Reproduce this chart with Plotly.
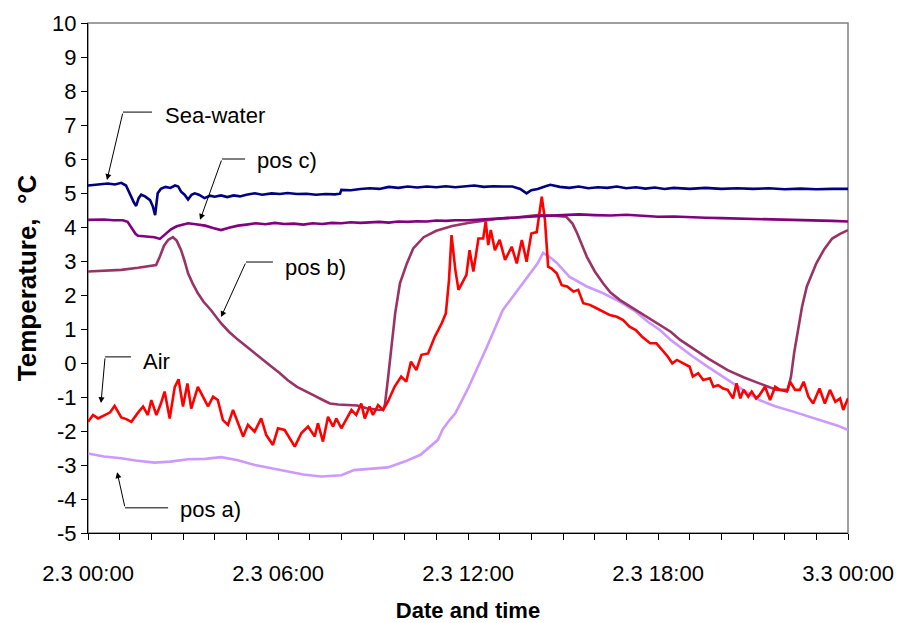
import plotly.graph_objects as go

# ---------------- data (hours since 2.3 00:00, temperature in °C) ----------------
sea_h = [0, 0.3, 0.63, 0.85, 1.05, 1.2, 1.36, 1.45, 1.52, 1.6, 1.68, 1.8, 1.96, 2.05, 2.12, 2.2, 2.3, 2.45,
         2.6, 2.75, 2.85, 2.94, 3.05, 3.16, 3.27, 3.37, 3.5, 3.68, 3.85, 4.0, 4.2, 4.4, 4.6, 4.8, 5.0, 5.27,
         5.5, 5.8, 6.06, 6.3, 6.6, 6.9, 7.2, 7.5, 7.8, 7.96, 8.0, 8.3, 8.6, 8.9, 9.2, 9.5, 9.8, 10.1, 10.4,
         10.7, 11.0, 11.3, 11.6, 11.9, 12.2, 12.5, 12.8, 13.1, 13.4, 13.65, 13.85, 14.0, 14.2, 14.45, 14.6,
         14.9, 15.2, 15.5, 15.8, 16.1, 16.4, 16.7, 17.0, 17.3, 17.6, 17.9, 18.2, 18.5, 19, 19.5, 20, 20.5,
         21, 21.5, 22, 22.5, 23, 23.5, 24]
sea_t = [5.22, 5.25, 5.28, 5.25, 5.30, 5.22, 4.89, 4.72, 4.62, 4.85, 4.95, 4.90, 4.79, 4.6, 4.35, 4.99, 5.12,
         5.18, 5.15, 5.22, 5.19, 5.04, 4.95, 4.81, 4.95, 4.99, 4.95, 4.85, 4.92, 4.89, 4.93, 4.88, 4.93, 4.90,
         4.95, 4.99, 4.95, 4.99, 4.97, 5.0, 4.97, 4.98, 4.95, 4.97, 4.96, 4.98, 5.09, 5.08, 5.12, 5.14, 5.12,
         5.18, 5.15, 5.19, 5.16, 5.19, 5.17, 5.2, 5.17, 5.19, 5.22, 5.18, 5.2, 5.19, 5.19, 5.12, 4.99, 5.08,
         5.12, 5.2, 5.24, 5.18, 5.15, 5.19, 5.14, 5.17, 5.15, 5.19, 5.14, 5.17, 5.13, 5.16, 5.12, 5.15, 5.12,
         5.15, 5.12, 5.14, 5.12, 5.14, 5.11, 5.13, 5.11, 5.12, 5.12]

posc_h = [0, 0.5, 0.8, 1.1, 1.25, 1.36, 1.5, 1.58, 1.8, 2.1, 2.27, 2.45, 2.62, 2.8, 3.0, 3.16, 3.4, 3.7, 3.95,
          4.2, 4.45, 4.74, 5.0, 5.3, 5.6, 5.9, 6.2, 6.5, 6.8, 7.1, 7.4, 7.7, 8.0, 8.3, 8.6, 8.9, 9.2, 9.5, 9.8,
          10.1, 10.4, 10.7, 11.0, 11.3, 11.6, 12, 12.5, 13, 13.5, 14, 14.5, 15, 15.5, 16, 16.5, 17, 17.5, 18,
          18.5, 19, 19.5, 20, 20.5, 21, 21.5, 22, 22.5, 23, 23.5, 24]
posc_t = [4.21, 4.22, 4.2, 4.2, 4.15, 4.01, 3.8, 3.74, 3.72, 3.70, 3.65, 3.80, 3.93, 4.02, 4.08, 4.11, 4.08,
          4.04, 3.97, 3.91, 3.98, 4.04, 4.07, 4.11, 4.08, 4.12, 4.09, 4.1, 4.07, 4.11, 4.09, 4.12, 4.11, 4.14,
          4.12, 4.13, 4.15, 4.13, 4.16, 4.15, 4.17, 4.16, 4.19, 4.18, 4.2, 4.2, 4.23, 4.25, 4.28, 4.32, 4.33,
          4.35, 4.37, 4.35, 4.34, 4.36, 4.32, 4.3, 4.31, 4.28, 4.27, 4.26, 4.25, 4.24, 4.22, 4.23, 4.2, 4.21,
          4.18, 4.16]

posb_h = [0, 0.5, 1.05, 1.58, 1.9, 2.15, 2.27, 2.4, 2.53, 2.68, 2.8, 2.94, 3.05, 3.16, 3.3, 3.47, 3.65, 3.88,
          4.2, 4.45, 4.74, 5.0, 5.27, 5.55, 5.8, 6.06, 6.3, 6.6, 6.85, 7.1, 7.4, 7.64, 7.9, 8.2, 8.5, 8.8, 9.0,
          9.22, 9.33, 9.38, 9.48, 9.6, 9.7, 9.85, 10.07, 10.27, 10.6, 11.0, 11.5, 12.0, 12.4, 12.6, 13.0, 13.5,
          14.2, 14.7, 15.1, 15.3, 15.45, 15.75, 16.0, 16.27, 16.5, 16.8, 17.3, 17.8, 18.06, 18.4, 18.7, 19.1,
          19.6, 20.2, 20.7, 21.2, 21.5, 21.75, 22.1, 22.2, 22.3, 22.4, 22.55, 22.7, 23.0, 23.25, 23.5, 23.75, 24]
posb_t = [2.69, 2.71, 2.74, 2.80, 2.85, 2.88, 3.13, 3.45, 3.62, 3.70, 3.6, 3.32, 3.0, 2.64, 2.35, 2.05, 1.8,
          1.56, 1.17, 0.92, 0.68, 0.48, 0.28, 0.08, -0.11, -0.30, -0.5, -0.70, -0.83, -0.94, -1.08, -1.19,
          -1.22, -1.24, -1.25, -1.33, -1.35, -1.38, -1.36, -1.2, -0.40, 0.58, 1.46, 2.34, 2.93, 3.37, 3.70,
          3.89, 4.03, 4.12, 4.18, 4.21, 4.25, 4.28, 4.35, 4.33, 4.30, 4.1, 3.81, 3.13, 2.7, 2.34, 2.07, 1.85,
          1.56, 1.28, 1.12, 0.92, 0.68, 0.43, 0.12, -0.21, -0.42, -0.60, -0.7, -0.79, -0.79, -0.40, 0.3, 0.87,
          1.66, 2.25, 2.93, 3.35, 3.66, 3.8, 3.91]

air_h = [0, 0.16, 0.32, 0.53, 0.7, 0.84, 1.05, 1.21, 1.37, 1.58, 1.74, 1.89, 2.0, 2.16, 2.3, 2.42, 2.58, 2.74,
         2.86, 3.0, 3.14, 3.26, 3.47, 3.63, 3.79, 3.95, 4.1, 4.26, 4.42, 4.58, 4.74, 4.9, 5.05, 5.26, 5.47,
         5.63, 5.84, 6.0, 6.21, 6.37, 6.53, 6.74, 6.95, 7.16, 7.26, 7.42, 7.58, 7.74, 7.84, 8.0, 8.16, 8.32,
         8.47, 8.63, 8.74, 8.89, 9.0, 9.16, 9.32, 9.47, 9.68, 9.89, 10.05, 10.2, 10.37, 10.53, 10.74, 10.95,
         11.17, 11.3, 11.4, 11.48, 11.6, 11.7, 11.95, 12.05, 12.17, 12.33, 12.48, 12.56, 12.64, 12.72, 12.85,
         13.0, 13.17, 13.38, 13.54, 13.7, 13.85, 14.0, 14.17, 14.2, 14.33, 14.43, 14.53, 14.64, 14.8, 14.96,
         15.13, 15.33, 15.48, 15.64, 15.85, 16.06, 16.27, 16.48, 16.7, 16.9, 17.1, 17.3, 17.5, 17.75, 17.95,
         18.1, 18.3, 18.45, 18.6, 18.8, 19.0, 19.1, 19.27, 19.43, 19.64, 19.75, 19.9, 20.06, 20.2, 20.37,
         20.48, 20.6, 20.7, 20.85, 20.96, 21.1, 21.2, 21.38, 21.54, 21.7, 21.85, 22.07, 22.17, 22.33, 22.48,
         22.6, 22.75, 22.9, 23.1, 23.27, 23.43, 23.6, 23.75, 23.85, 24.0]
air_t = [-1.73, -1.53, -1.63, -1.53, -1.45, -1.26, -1.6, -1.65, -1.73, -1.46, -1.28, -1.53, -1.09, -1.53,
         -1.2, -0.84, -1.63, -0.70, -0.48, -1.28, -0.60, -1.34, -0.70, -0.99, -1.28, -0.99, -1.09, -1.68,
         -1.82, -1.38, -1.77, -2.16, -1.82, -2.02, -1.63, -2.12, -2.41, -1.92, -1.97, -2.21, -2.46, -2.06,
         -1.87, -2.16, -1.77, -2.31, -1.58, -1.87, -1.63, -1.92, -1.63, -1.38, -1.53, -1.19, -1.63, -1.28,
         -1.53, -1.24, -1.38, -1.14, -0.70, -0.40, -0.55, 0.04, -0.21, 0.24, 0.28, 0.77, 1.17, 1.46, 2.44,
         3.76, 2.74, 2.15, 2.59, 3.32, 2.69, 3.66, 3.66, 4.16, 3.47, 3.91, 3.32, 3.62, 3.03, 3.42, 2.93, 3.62,
         2.98, 3.81, 3.85, 4.06, 4.89, 4.21, 2.83, 2.78, 2.64, 2.29, 2.25, 2.10, 2.15, 1.76, 1.71, 1.61, 1.51,
         1.41, 1.36, 1.26, 1.07, 0.97, 0.77, 0.58, 0.58, 0.43, 0.2, -0.01, 0.09, -0.01, -0.11, -0.40, -0.30,
         -0.50, -0.45, -0.70, -0.65, -0.75, -0.79, -1.04, -0.6, -1.04, -0.79, -0.99, -0.84, -1.04, -0.95,
         -0.70, -1.09, -0.70, -0.79, -0.84, -0.55, -0.79, -0.79, -0.55, -0.99, -1.19, -0.75, -1.19, -0.79,
         -1.14, -1.04, -1.38, -1.04]

posa_h = [0, 0.5, 1.05, 1.5, 2.1, 2.6, 3.16, 3.7, 4.2, 4.7, 5.27, 5.8, 6.3, 6.8, 7.36, 7.7, 8.0, 8.4, 8.9,
          9.47, 10.0, 10.5, 11.05, 11.2, 11.4, 11.6, 12.0, 12.3, 12.6, 13.1, 13.64, 14.2, 14.37, 14.6, 14.8,
          15.2, 15.75, 16.27, 16.8, 17.3, 17.7, 18.06, 18.4, 19.1, 19.6, 20.2, 20.7, 21.2, 21.7, 22.27, 22.8,
          23.3, 23.7, 24]
posa_t = [-2.66, -2.75, -2.80, -2.87, -2.93, -2.9, -2.83, -2.82, -2.77, -2.85, -3.0, -3.1, -3.20, -3.28,
          -3.34, -3.33, -3.3, -3.15, -3.12, -3.07, -2.90, -2.70, -2.26, -1.95, -1.7, -1.48, -0.75, -0.15,
          0.48, 1.56, 2.25, 2.93, 3.24, 3.1, 2.95, 2.54, 2.25, 2.05, 1.80, 1.51, 1.2, 0.97, 0.68, 0.19, -0.13,
          -0.5, -0.8, -1.09, -1.27, -1.43, -1.58, -1.72, -1.85, -1.97]

x_tickvals = [0, 6, 12, 18, 24]
x_ticktext = ["2.3 00:00", "2.3 06:00", "2.3 12:00", "2.3 18:00", "3.3 00:00"]
y_tickvals = [-5, -4, -3, -2, -1, 0, 1, 2, 3, 4, 5, 6, 7, 8, 9, 10]
y_ticktext = ["-5", "-4", "-3", "-2", "-1", "0", "1", "2", "3", "4", "5", "6", "7", "8", "9", "10"]

series = [
    ("pos a)", posa_h, posa_t, "#CC99FF"),
    ("pos b)", posb_h, posb_t, "#993366"),
    ("Air", air_h, air_t, "#FF0000"),
    ("pos c)", posc_h, posc_t, "#800080"),
    ("Sea-water", sea_h, sea_t, "#000080"),
]

FONT = "Liberation Sans, Arial, sans-serif"

fig = go.Figure()
for name, hx, ty, col in series:
    fig.add_trace(go.Scatter(x=hx, y=ty, mode="lines", name=name,
                             line=dict(color=col, width=2.6), showlegend=False))

# plot-area frame (grey top/right)
fig.add_shape(type="rect", xref="paper", yref="paper", x0=0, y0=0, x1=1, y1=1,
              line=dict(color="#808080", width=1.5), layer="below")

# label leaders: (label, text x, text y, elbow points..., arrow head)
leaders = [
    ("Sea-water", 2.37, 7.29, [(2.02, 7.38), (1.105, 7.38)], (0.6, 5.38)),
    ("pos c)", 5.27, 5.97, [(4.96, 6.0), (4.23, 6.0)], (3.54, 4.21)),
    ("pos b)", 6.16, 2.82, [(5.84, 2.97), (4.99, 2.97)], (4.2, 1.35)),
    ("Air", 1.67, 0.03, [(1.36, 0.18), (0.54, 0.18)], (0.41, -1.18)),
    ("pos a)", 2.84, -4.32, [(2.53, -4.26), (1.17, -4.26)], (0.92, -3.21)),
]
for text, tx, ty, pts, head in leaders:
    fig.add_annotation(x=tx, y=ty, text=text, showarrow=False, xanchor="left", yanchor="middle",
                       font=dict(family=FONT, size=22, color="black"))
    (x0, y0), (x1, y1) = pts
    fig.add_shape(type="line", x0=x0, y0=y0, x1=x1, y1=y1, line=dict(color="black", width=1))
    fig.add_annotation(x=head[0], y=head[1], ax=x1, ay=y1, axref="x", ayref="y", text="",
                       showarrow=True, arrowhead=2, arrowsize=1.2, arrowwidth=1, arrowcolor="black")

fig.update_layout(
    width=897, height=623,
    margin=dict(l=88, r=49, t=23, b=90),
    paper_bgcolor="white", plot_bgcolor="white",
    font=dict(family=FONT, size=22, color="black"),
    xaxis=dict(range=[0, 24], tickvals=x_tickvals, ticktext=x_ticktext, ticks="outside", ticklen=6,
               tickcolor="black", showline=True, linecolor="black", linewidth=1, showgrid=False,
               zeroline=False, ticklabelstandoff=15, automargin=False,
               minor=dict(dtick=1, ticks="outside", ticklen=6, tickcolor="black", showgrid=False),
               title=dict(text="<b>Date and time</b>", font=dict(size=22), standoff=20)),
    yaxis=dict(range=[-5, 10], tickvals=y_tickvals, ticktext=y_ticktext, ticks="outside", ticklen=6,
               tickcolor="black", automargin=False,
               showline=True, linecolor="black", linewidth=1, showgrid=False, zeroline=False,
               title=dict(text="<b>Temperature,  °C</b>", font=dict(size=26), standoff=8)),
)

fig.write_html("out.html")
